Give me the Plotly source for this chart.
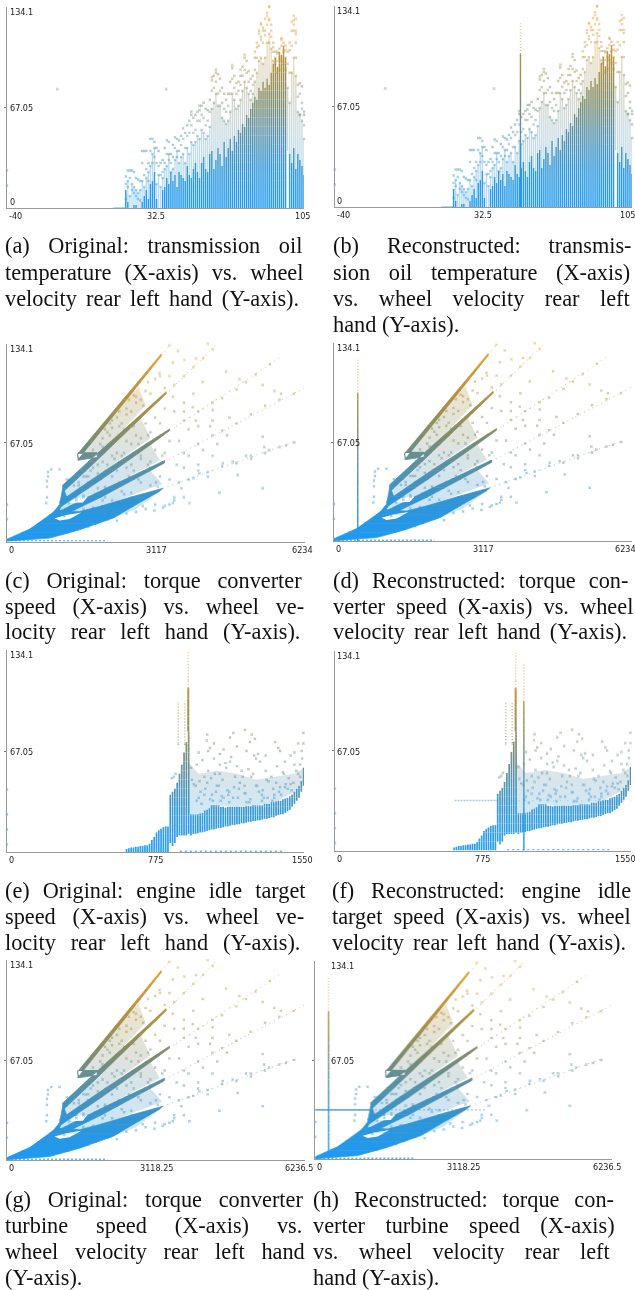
import plotly.graph_objects as go

W, H = 635, 1290

# ---------- panel (a)/(b): transmission oil temperature ----------
oil_temp = [18,19,20,21,22,23,24,25,26,27,28,29,30,31,32,33,34,35,36,37,38,39,40,41,42,43,44,45,46,47,48,49,50,51,52,53,54,55,56,57,58,59,60,61,62,63,64,65,66,67,68,69,70,71,72,73,74,75,76,77,78,79,80,81,82,83,84,85,86,87,88,89,90,91,92,93,94,95,96,97,98,99,100,101,102,103,104,105]
oil_solid_top = [12,4,0,0,2,2,0,0,4,8,12,6,16,18,24,6,0,0,12,14,20,16,24,18,22,14,24,22,20,18,28,22,20,26,30,24,20,30,34,26,24,36,38,26,32,40,36,28,44,34,40,46,38,48,44,52,50,56,54,62,60,66,70,74,72,80,78,84,80,86,82,90,96,100,94,104,102,108,100,0,36,30,40,26,36,32,28,22]
oil_max_top = [21,25,25,25,24,20,19,18,38,38,38,30,46,46,44,40,38,30,32,40,45,44,36,42,47,46,45,48,53,50,55,58,62,60,62,64,65,68,70,66,65,72,85,88,90,89,86,80,76,72,76,84,93,88,83,84,88,94,100,98,91,86,88,100,107,118,123,120,126,130,134,122,110,104,103,106,113,110,105,104,105,118,125,110,82,83,81,62]
oil_upper_a = [16,14,20,12,10,8,6,5,30,22,26,18,38,30,34,30,28,22,24,30,36,32,30,34,40,34,38,42,46,40,48,50,55,50,52,58,58,62,60,55,58,64,78,80,84,76,78,70,66,64,68,76,86,80,76,78,82,88,92,90,84,78,82,92,100,108,114,110,118,122,126,114,104,100,98,100,108,104,100,96,90,108,118,100,74,76,70,55]
oil_upper_b = [6,18,8,16,14,12,10,12,18,14,20,24,28,36,40,16,22,14,20,26,28,36,24,26,32,38,30,34,36,30,40,36,44,42,44,48,46,52,50,46,48,54,66,70,76,68,68,60,58,56,58,64,76,72,66,68,72,78,84,80,76,72,76,84,90,98,100,96,100,110,116,106,98,96,90,92,98,96,92,80,70,90,100,88,64,62,58,46]
oil_gap_temp, oil_gap_base = 97, 38
oil_pts_x = [-40,-40,-15.4,37.7,88,87,88,85,84,84,86,89,88,90,100,101,100,99,101,101,98,105,103,104,83,82,81,96,94,92,76,74,70,62,60,54,50]
oil_pts_y = [25,15,79,79,134,128,125,118,112,122,115,118,110,107,122,118,128,124,126,116,110,64,62,66,116,110,104,108,112,104,102,92,95,92,87,68,64]
oil_axis_run = [12, 18]
oil_spike_x, oil_spike_solid, oil_spike_max = 50.6, 102, 124

# ---------- panels (c)(d)(g)(h): torque converter speed (outlines of the dense streaks) ----------
tc_ray_1 = [[1470,59],[2500,99],[3225,127],[3225,125.5],[2500,96],[1500,56]]
tc_ray_2 = [[1160,38],[1900,60],[2800,86],[3329,101.5],[3329,100],[2800,83.5],[1900,55.5],[1190,34]]
tc_ray_3 = [[1100,27],[2000,47],[3000,68],[3399,76.2],[3399,75],[3000,65.5],[2000,42.5],[1150,24]]
tc_ray_4 = [[1065,20],[2000,35],[3000,50.3],[3294,54.8],[3294,53.2],[3000,48],[2000,30.5],[1100,16.5]]
tc_mass = [[0,1.6],[474,8.4],[752,14.7],[1031,21.4],[1518,20.3],[1936,23.7],[2354,28],[3260,36],[3190,34],[2633,23.7],[2215,15.8],[1518,7.9],[891,2.3],[0,0.2]]
tc_lens_1 = [[996,15.8],[1240,18],[1553,19.6],[1309,15.3],[1100,14.2]]
tc_lens_2 = [[1275,26],[1449,29.3],[1693,30.5],[1588,26.4]]
tc_left_edge = [[474,8],[900,17],[1100,25],[1170,37],[1250,30],[1050,19]]
tc_hook = [[1484,55],[1890,57],[1880,60],[1484,60]]
tc_wedge_1 = [[1500,56],[2500,96],[2750,105],[2900,92],[1900,58]]
tc_wedge_2 = [[1190,34],[1900,55.5],[2800,83.5],[3000,70],[2000,47],[1100,27]]
tc_wedge_3 = [[1150,24],[2000,42.5],[3000,65.5],[3200,55],[2000,35],[1065,20]]
tc_wedge_4 = [[1100,16.5],[2000,30.5],[3000,48],[3250,39],[2000,24],[1500,19]]
tc_wedge_5 = [[2000,18],[2800,29.5],[3200,34],[2700,22],[2215,15.8]]
tc_tails = [[3225,126,3399,133],[3329,100,4409,134],[3399,75,5732,125],[3294,54,6220,104],[3260,36,6045,68]]
tc_pts_x = [0,0,857,926,1100,836,836,822,857,836,5349,4444,4827,5349,5384,5488,5836,6010,5001,5105,4513,4722,4026,3817,3469,3399,3085,3260,2841,3120,3155,3190,3469,3712,3573,3956,4200,3399,4583,4095,4862,5349,5593,5732,4653,4304,3886,3469,3700,3950,4250,4600,4400,4100,3800,3550,2200,2350,2500,2700,2850,2300,2450,2650,2000,2150,1900,1750,1650,2250,2450,2750,2950,3150,1500,1700,1900,2100,2300,2600,2800,3000,1600,1850,2050,2250,2550,2750,1250,1450,1650,2050,2450,3000,3300,3500,3650,3800,4000,4200,
            2000,2100,2200,2300,2400,2500,2600,2700,2800,2900,2950,3000,3100,3200,3300,3400,1800,1950,2050,2150,2350,2550,2650,
            1400,1500,1600,1700,1800,1900,2000,2100,2200,2300,2400,2500,2600,2700,2800,2900,3000,3100,3200,3300,3500,3700,3900,
            1300,1450,1600,1750,1900,2050,2200,2350,2500,2650,2800,2950,3100,3250,3400,3600,3800,4000,4300,
            1200,1400,1600,1800,2000,2200,2400,2600,2800,3000,3200,3400,3700,4000,4300,
            1700,1900,2100,2300,2500,2700,2900,3100,3300,3500,3700,
            3600,3900,4200,4500,4800,5100,5400,5700,3700,4000,4300,4500,4800,5100,5400,5700,6000,3700,4000,4300,4500,4800,5000,5200,5500,3500,3700,3900,4100,4300]
tc_pts_y = [25,15,47,49,49,37,30,26,44,41,36,33,45,71,64,62,65,67,58,56,53,54,46,26,26,25,21,23,24,40,37,114,121,123,129,124,134,133,115,108,110,106,102,100,84,89,91,98,88,82,78,72,66,62,58,52,82,88,86,98,92,70,76,78,64,72,52,48,44,56,60,66,72,70,38,40,42,46,48,52,58,54,30,32,36,38,44,42,42,30,36,30,32,50,60,30,36,42,48,44,
            70,74,77,84,80,90,88,94,96,102,108,100,110,112,104,112,62,66,76,80,78,96,99,
            38,40,44,44,50,46,54,52,58,60,58,68,66,72,70,80,74,84,80,90,88,94,100,
            26,28,31,30,36,37,44,40,50,48,56,52,62,58,68,68,76,78,82,
            17,20,22,23,28,28,34,33,40,38,44,42,50,52,58,
            10,13,15,14,19,20,22,25,24,28,30,
            40,43,47,51,53,58,60,64,60,66,72,75,80,86,92,96,100,82,88,94,97,103,108,113,120,106,112,118,124,130]
tc_axis_run = [0, 2100]
tc_spike_x_d, tc_spike_x_h = 497, 281
tc_spike_solid, tc_spike_max = 100, 124
tc_h_line_y, tc_h_line_mid, tc_h_line_end = 33.3, 1170, 3590

# ---------- panels (e)(f): engine idle target speed ----------
idle_x = [624,636,648,660,672,684,696,708,720,732,744,756,768,780,792,804,816,828,840,852,864,876,888,900,912,924,936,948,960,972,984,996,1008,1020,1032,1044,1056,1068,1080,1092,1104,1116,1128,1140,1152,1164,1176,1188,1200,1212,1224,1236,1248,1260,1272,1284,1296,1308,1320,1332,1344,1356,1368,1380,1392,1404,1416,1428,1440,1452,1464,1476,1488,1500,1512,1524,1536,1548]
idle_lo = [0,0,0,0,0,0,0,0,0,0,0,0,0,0,0,0,0,0,0,6,4,6,10,11,11,11,11,12,11,12,12,12.5,13,13,13.5,14,14.5,15,15,15.5,16,16,16.5,17,17,17.5,18,18,18.5,18.5,19,19,19.5,20,20,20.5,20.5,21,21,21.5,22,22,22.5,23,23,24,24.5,25,25,26,27,28,30,32,34,36,40,44]
idle_hi = [2,2.5,3,3,3.5,3.5,4,4,4.5,4.5,5.5,8,10,13,14.5,15.5,16.5,17,17,38,40,42,46,52,58,66,73,80,25,25,25,25,25.5,26,27.5,28,29,31,31,31,31,30,30,29.5,30,30,30,30,30,30,30,30,30.5,30.5,30.5,31,31,31,31,31,32,32,32,33,33,33.5,34,34,35,35.5,36,37,38,40,42,44,47,56]
idle_cloud = [[945,25],[945,60],[1000,52],[1100,54],[1200,52],[1300,48],[1400,50],[1500,52],[1548,56],[1548,47],[1500,40],[1400,33],[1300,31],[1200,30],[1100,31],[1000,25]]
idle_tall_x = [946,894,928]
idle_tall_lo = [80,71,71]
idle_tall_solid = [109,71,71]
idle_tall_hi = [134,100,100]
idle_pts_x = [0,0,0,0,1045,1042,1050,1059,1111,1181,1164,1242,1277,1294,1268,1399,1425,1416,1547,1547,1538,1111,1164,1250,1310,960,990,1020,1050,1080,1110,1140,1170,1200,1230,1260,1290,1320,1350,1380,1410,1440,1470,1500,975,1005,1035,1065,1095,1125,1155,1185,1215,1245,1275,1305,1335,1365,1395,1425,1455,1485,1520,880,870,860,1000,1030,1060,1090,1120,1150,1180,1210,1240,1270,1300,1330,1360,1390,1420,1450,1480,
              965,985,1010,1030,1045,1070,1085,1105,1130,1145,1160,1190,1205,1225,1240,1265,1285,1315,1340,1355,1385,1405,1430,1445,1465,1495,1510,1530,1540,1530,990,1015,1075,1115,1160,1250,1330,1395,1000,1130,1200,1300,1350,1450,1500,1520,1480,1080]
idle_pts_y = [41.5,25,15,5,78,74,67,69,65,79,76,81,78,75,73,73,67,69,79,72,67,58,60,67,65,56,58,61,54,62,52,59,63,57,50,55,64,60,54,50,57,53,49,58,45,47,42,49,44,48,38,43,46,39,50,44,41,47,38,43,45,41,52,52,50,49,36,38,35,40,37,41,36,42,39,35,44,38,36,42,40,43,45,
              48,44,40,50,46,38,52,44,36,56,40,50,36,54,44,33,52,40,36,48,34,46,38,52,42,46,54,50,62,58,34,32,34,34,33,33,34,36,66,68,70,62,64,60,66,72,64,72]
idle_axis_run = [902, 1451]
idle_spike_x, idle_spike_solid, idle_spike_max = 989, 100, 125
idle_h_line_y, idle_h_line_x0, idle_h_line_x1, idle_h_line_x2 = 33.5, 626, 850, 1550

y_ticks = [134.1, 67.05, 0]
y_tick_text = ["134.1", "67.05", "0"]
x_ticks_a = [-40, 32.5, 105]
x_ticks_c = [0, 3117, 6234]
x_ticks_e = [0, 775, 1550]
x_ticks_g = [0, 3118.25, 6236.5]

captions = {
 "a": ["(a) Original: transmission oil", "temperature (X-axis) vs. wheel", "velocity rear left hand (Y-axis)."],
 "b": ["(b) Reconstructed: transmis-", "sion oil temperature (X-axis)", "vs. wheel velocity rear left", "hand (Y-axis)."],
 "c": ["(c) Original: torque converter", "speed (X-axis) vs. wheel ve-", "locity rear left hand (Y-axis)."],
 "d": ["(d) Reconstructed: torque con-", "verter speed (X-axis) vs. wheel", "velocity rear left hand (Y-axis)."],
 "e": ["(e) Original: engine idle target", "speed (X-axis) vs. wheel ve-", "locity rear left hand (Y-axis)."],
 "f": ["(f) Reconstructed: engine idle", "target speed (X-axis) vs. wheel", "velocity rear left hand (Y-axis)."],
 "g": ["(g) Original: torque converter", "turbine speed (X-axis) vs.", "wheel velocity rear left hand", "(Y-axis)."],
 "h": ["(h) Reconstructed: torque con-", "verter turbine speed (X-axis)", "vs. wheel velocity rear left", "hand (Y-axis)."],
}

# ---------- layout geometry (pixels) ----------
PANELS = {
 "a": dict(L=7, R=304, T=6.5, B=208, xr=(-40,105), xt=x_ticks_a, cap=(5,303,246), n=1, ls=-2),
 "b": dict(L=334.7, R=632, T=6, B=207, xr=(-40,105), xt=x_ticks_a, cap=(333,631,246), n=2, ls=-5),
 "c": dict(L=7, R=305, T=343.5, B=541.5, xr=(0,6234), xt=x_ticks_c, cap=(5,303,580), n=3, ls=-3),
 "d": dict(L=334, R=632, T=343, B=541, xr=(0,6234), xt=x_ticks_c, cap=(333,631,580), n=4, ls=-7),
 "e": dict(L=7, R=304, T=650, B=852, xr=(0,1550), xt=x_ticks_e, cap=(5,303,890), n=5, ls=-2),
 "f": dict(L=335, R=631, T=650.5, B=850.5, xr=(0,1550), xt=x_ticks_e, cap=(332,631,890), n=6, ls=-6),
 "g": dict(L=7, R=305, T=960, B=1160, xr=(0,6236.5), xt=x_ticks_g, cap=(5,303,1199), n=7, ls=-6),
 "h": dict(L=315.3, R=612, T=961, B=1159, xr=(0,6236.5), xt=x_ticks_g, cap=(313,612,1199), n=8, ls=-5),
}
LINE_STEP = 26
CAP_SIZE = 22.3
HAIR = "\u200a"
HAIR_EM = 0.083
TICK_FONT = "Liberation Sans Narrow, DejaVu Sans Condensed, sans-serif"

STOPS = [(0,(30,155,245)),(0.2,(48,150,215)),(0.38,(90,145,165)),(0.52,(125,140,110)),(0.72,(175,145,65)),(1,(240,165,45))]
def colour(v):
    t = max(0, min(1, v/134.1))
    for (a,ca),(b,cb) in zip(STOPS, STOPS[1:]):
        if t <= b:
            f = (t-a)/(b-a)
            return "rgb(%d,%d,%d)" % tuple(ca[i]+(cb[i]-ca[i])*f for i in range(3))
    return "rgb(240,165,45)"
CSCALE = [[s, "rgb(%d,%d,%d)" % c] for s,c in STOPS]

fig = go.Figure()
BIN = 6
def add_segments(p, segs, width, opacity=1, dash=None):
    bands = {}
    for x0,y0,x1,y1 in segs:
        if y0 == y1:
            b = bands.setdefault(int(y0//BIN), ([],[]))
            b[0].extend([x0,x1,None]); b[1].extend([y0,y1,None])
            continue
        if y0 > y1:
            x0,y0,x1,y1 = x1,y1,x0,y0
        k = int(y0//BIN)
        while k*BIN < y1:
            a = max(y0, k*BIN); c = min(y1, (k+1)*BIN)
            xa = x0+(x1-x0)*(a-y0)/(y1-y0); xc = x0+(x1-x0)*(c-y0)/(y1-y0)
            b = bands.setdefault(k, ([],[]))
            b[0].extend([xa,xc,None]); b[1].extend([a,c,None])
            k += 1
    for k,(xs,ys) in sorted(bands.items()):
        fig.add_trace(go.Scatter(x=xs, y=ys, mode="lines", xaxis=f"x{p['n']}", yaxis=f"y{p['n']}",
            line=dict(color=colour((k+.5)*BIN), width=width, dash=dash), opacity=opacity,
            hoverinfo="skip", showlegend=False))

def clip_band(poly, lo, hi):
    def clip(pts, inside, cross):
        out = []
        for i,q in enumerate(pts):
            r = pts[i-1]
            if inside(q):
                if not inside(r): out.append(cross(r,q))
                out.append(q)
            elif inside(r):
                out.append(cross(r,q))
        return out
    def at(level):
        return lambda r,q: [r[0]+(q[0]-r[0])*(level-r[1])/(q[1]-r[1]), level]
    pts = clip(poly, lambda q: q[1] >= lo, at(lo))
    if pts: pts = clip(pts, lambda q: q[1] <= hi, at(hi))
    return pts

def add_polys(p, polys, opacity, fill=None, edge=0):
    bands = {}
    top = int(max(q[1] for poly in polys for q in poly)//BIN)+1
    for poly in polys:
        for k in range(top):
            pts = clip_band(poly, k*BIN, (k+1)*BIN)
            if len(pts) >= 3:
                b = bands.setdefault(k, ([],[]))
                b[0].extend([q[0] for q in pts]+[pts[0][0],None])
                b[1].extend([q[1] for q in pts]+[pts[0][1],None])
    for k,(xs,ys) in sorted(bands.items()):
        c = fill or colour((k+.5)*BIN)
        fig.add_trace(go.Scatter(x=xs, y=ys, mode="lines", fill="toself", xaxis=f"x{p['n']}", yaxis=f"y{p['n']}",
            line=dict(width=edge, color=c), fillcolor=c, opacity=opacity, hoverinfo="skip", showlegend=False))

def add_points(p, xs, ys, size=2.8, opacity=.5):
    n = p["n"]
    fig.add_trace(go.Scatter(x=xs, y=ys, mode="markers", xaxis=f"x{n}", yaxis=f"y{n}", cliponaxis=False,
        marker=dict(symbol="x", size=size, color=ys, cmin=0, cmax=134.1, colorscale=CSCALE, line=dict(width=0)),
        opacity=opacity, hoverinfo="skip", showlegend=False))

def draw_oil(p, extra):
    sol = [[x,0,x,t] for x,t in zip(oil_temp, oil_solid_top) if t > 0]
    pale = [[x,(oil_gap_base if x == oil_gap_temp else t),x,m] for x,t,m in zip(oil_temp, oil_solid_top, oil_upper_b) if m > t]
    add_segments(p, pale, 1.3, .34)
    add_segments(p, sol, 1.5, .97)
    add_segments(p, [[oil_axis_run[0],0,oil_axis_run[1],0]], 1.5, .5)
    add_points(p, oil_temp, oil_max_top, 2.6, .5)
    add_points(p, oil_temp, oil_upper_a, 2.6, .45)
    add_points(p, oil_temp, oil_upper_b, 2.6, .45)
    add_points(p, oil_pts_x, oil_pts_y, 2.6, .5)
    if extra:
        add_segments(p, [[oil_spike_x,0,oil_spike_x,oil_spike_solid]], 1.4, 1)
        add_segments(p, [[oil_spike_x,oil_spike_solid,oil_spike_x,oil_spike_max]], 1.4, .6, "1px,2px")

def draw_tc(p, spike=None, hline=False):
    add_polys(p, [tc_wedge_1,tc_wedge_2,tc_wedge_3,tc_wedge_4,tc_wedge_5], .24)
    add_segments(p, tc_tails, 1.1, .45, "1px,4px")
    add_polys(p, [tc_mass,tc_left_edge,tc_hook,tc_ray_1,tc_ray_2,tc_ray_3,tc_ray_4], 1, None, .7)
    add_polys(p, [tc_lens_1,tc_lens_2], 1, "white")
    add_segments(p, [[tc_axis_run[0],0.5,tc_axis_run[1],0.5]], 1.5, .7, "2px,2px")
    add_points(p, tc_pts_x, tc_pts_y, 2.6, .5)
    if spike is not None:
        add_segments(p, [[spike,0,spike,tc_spike_solid]], 1.4, 1)
        add_segments(p, [[spike,tc_spike_solid,spike,tc_spike_max]], 1.4, .6, "1px,2px")
    if hline:
        add_segments(p, [[0,tc_h_line_y,tc_h_line_mid,tc_h_line_y]], 1.6, .75)
        add_segments(p, [[tc_h_line_mid,tc_h_line_y,tc_h_line_end,tc_h_line_y]], 1.4, .45, "2px,2px")

def draw_idle(p, extra):
    add_polys(p, [idle_cloud], .22)
    add_segments(p, [[x,l,x,h] for x,l,h in zip(idle_x,idle_lo,idle_hi)], 1.7, .95)
    add_segments(p, [[x,l,x,s] for x,l,s in zip(idle_tall_x,idle_tall_lo,idle_tall_solid) if s > l], 2, 1)
    add_segments(p, [[x,s,x,h] for x,s,h in zip(idle_tall_x,idle_tall_solid,idle_tall_hi)], 1.6, .6, "1px,2px")
    add_segments(p, [[idle_axis_run[0],0.5,idle_axis_run[1],0.5]], 1.5, .7, "2px,3px")
    add_points(p, idle_pts_x, idle_pts_y, 2.6, .5)
    if extra:
        add_segments(p, [[idle_spike_x,0,idle_spike_x,idle_spike_solid]], 1.4, 1)
        add_segments(p, [[idle_spike_x,idle_spike_solid,idle_spike_x,idle_spike_max]], 1.4, .7, "1px,2px")
        add_segments(p, [[idle_h_line_x0,idle_h_line_y,idle_h_line_x1,idle_h_line_y]], 1.4, .45, "2px,1px")
        add_segments(p, [[idle_h_line_x1,idle_h_line_y,idle_h_line_x2,idle_h_line_y]], 1.2, .3, "1px,6px")

draw_oil(PANELS["a"], False); draw_oil(PANELS["b"], True)
draw_tc(PANELS["c"]); draw_tc(PANELS["d"], tc_spike_x_d)
draw_idle(PANELS["e"], False); draw_idle(PANELS["f"], True)
draw_tc(PANELS["g"]); draw_tc(PANELS["h"], tc_spike_x_h, True)

AFM = dict(zip("abcdefghijklmnopqrstuvwxyz", [444,500,444,500,444,333,500,500,278,278,500,278,778,500,500,500,500,333,389,278,500,500,722,500,500,444]))
AFM.update({"(":333,")":333,"-":333,".":250,":":278,"A":722,"O":722,"R":667,"X":722,"Y":722})
def justify(line, width):
    words = line.split(" ")
    if len(words) < 2: return line
    nat = sum(AFM.get(c,500) for w in words for c in w)*CAP_SIZE/1000
    gaps = len(words)-1
    extra = max(0, (width-nat)/gaps - .25*CAP_SIZE)
    k = round(extra/(HAIR_EM*CAP_SIZE))
    return (" "+HAIR*k).join(words)

ann = []
layout = {}
for key,p in PANELS.items():
    n = p["n"]
    layout[f"xaxis{n}"] = dict(domain=[p["L"]/W,p["R"]/W], range=list(p["xr"]), anchor=f"y{n}", showgrid=False, zeroline=False,
        showline=True, linecolor="#999", linewidth=1.4, ticks="", showticklabels=False, fixedrange=True)
    layout[f"yaxis{n}"] = dict(domain=[1-p["B"]/H,1-p["T"]/H], range=[0,134.1], anchor=f"x{n}", showgrid=False, zeroline=False,
        showline=True, linecolor="#999", linewidth=1, ticks="outside", ticklen=2, tickcolor="#777", tickvals=[67.05], showticklabels=False, fixedrange=True)
    tf = dict(family=TICK_FONT, size=9, color="#1a1a1a")
    lx = p["xr"][0]; mode_h = key == "h"
    for v,t in zip(y_ticks, y_tick_text):
        if t == "0" and key not in "ab":
            continue
        shift = {"134.1":-5,"67.05":-1,"0":6}[t]
        ann.append(dict(x=lx,y=v,xref=f"x{n}",yref=f"y{n}",text=t,showarrow=False,xanchor="left",yanchor="middle",
            xshift=15 if mode_h else 1.5, yshift=shift, font=tf, borderpad=0))
    for i,v in enumerate(p["xt"]):
        anchor = "left" if i == 0 else "center"
        ann.append(dict(x=v,y=0,xref=f"x{n}",yref=f"y{n}",text=f"{v:g}",showarrow=False,xanchor=anchor,yanchor="middle",
            xshift=(1 if i == 0 else (p["ls"] if i == 2 else 0)), yshift=-8, font=tf, borderpad=0))
    l,r,y0 = p["cap"]
    lines = captions[key]
    for i,line in enumerate(lines):
        last = i == len(lines)-1
        txt = line if last and len(line) < 20 else justify(line, r-l)
        ann.append(dict(x=l/W,y=1-(y0+i*LINE_STEP)/H,xref="paper",yref="paper",text=txt,showarrow=False,xanchor="left",yanchor="middle",
            font=dict(family="Liberation Serif, Times New Roman, serif",size=CAP_SIZE,color="#111"),borderpad=0,borderwidth=0))

fig.update_layout(width=W,height=H,margin=dict(l=0,r=0,t=0,b=0),paper_bgcolor="white",plot_bgcolor="rgba(0,0,0,0)",
    showlegend=False,annotations=ann,**layout)
fig.write_html("out.html",config=dict(displayModeBar=False),post_script="document.body.style.margin='0';")
